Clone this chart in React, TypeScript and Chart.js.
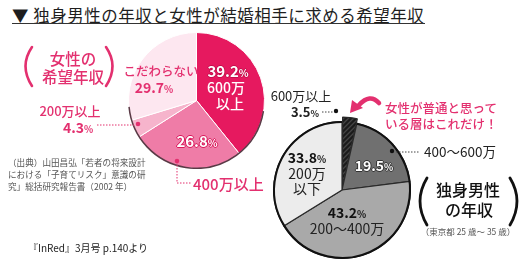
import React, { useEffect, useRef } from "react";
import { Chart, registerables } from "chart.js";

Chart.register(...registerables);

// ---- data ----
const womenCategories = ["600万以上", "400万以上", "200万以上", "こだわらない"];
const womenValues = [39.2, 26.8, 4.3, 29.7];
const womenColors = ["#e6195f", "#ef7ca7", "#f6b4cc", "#fde7f0"];

const menCategories = ["600万以上", "400～600万", "200～400万", "200万以下"];
const menValues = [3.5, 19.5, 43.2, 33.8];
const menColors = ["#1b1b1b", "#707070", "#a9a9a9", "#ececec"];
const menOffsets = [10, 0, 0, 0];

const FONT = "'Noto Sans CJK JP', 'Noto Sans', sans-serif";
const PINK = "#e3306f";

function hatch(): CanvasPattern | string {
  const c = document.createElement("canvas");
  c.width = 5;
  c.height = 5;
  const g = c.getContext("2d");
  if (!g) return "#1b1b1b";
  g.fillStyle = "#1b1b1b";
  g.fillRect(0, 0, 5, 5);
  g.strokeStyle = "#6a6a6a";
  g.lineWidth = 1;
  g.beginPath();
  g.moveTo(-1, 6);
  g.lineTo(6, -1);
  g.stroke();
  const p = g.createPattern(c, "repeat");
  return p || "#1b1b1b";
}

const rimPlugin = (color: string, width: number, fromIdx: number, toIdx: number, a0?: number, a1?: number) => ({
  id: "rim",
  afterDatasetsDraw(chart: any) {
    const meta = chart.getDatasetMeta(0);
    const first = meta.data[fromIdx];
    const last = meta.data[toIdx];
    if (!first || !last) return;
    const ctx = chart.ctx;
    const { x, y, outerRadius } = first.getProps(["x", "y", "outerRadius"], true);
    ctx.save();
    ctx.strokeStyle = color;
    ctx.lineWidth = width;
    ctx.beginPath();
    const s = a0 !== undefined ? a0 : first.startAngle;
    const e = a1 !== undefined ? a1 : last.endAngle;
    ctx.arc(x, y, outerRadius - width / 2 + 0.5, s, e);
    ctx.stroke();
    ctx.restore();
  },
});

function PieCanvas(props: {
  left: number;
  top: number;
  size: number;
  labels: string[];
  values: number[];
  colors: any[];
  offsets?: number[];
  borderColor: string;
  borderWidth: number;
  plugin: any;
  hatchFirst?: boolean;
}) {
  const ref = useRef<HTMLCanvasElement | null>(null);
  useEffect(() => {
    if (!ref.current) return;
    const colors = props.colors.slice();
    if (props.hatchFirst) colors[0] = hatch();
    const chart = new Chart(ref.current, {
      type: "pie",
      data: {
        labels: props.labels,
        datasets: [
          {
            data: props.values,
            backgroundColor: colors,
            borderColor: props.borderColor,
            borderWidth: props.borderWidth,
            offset: props.offsets || 0,
          } as any,
        ],
      },
      options: {
        responsive: false,
        animation: false,
        layout: { padding: 0 },
        plugins: { legend: { display: false }, tooltip: { enabled: false } },
      },
      plugins: [props.plugin],
    });
    return () => chart.destroy();
  }, []);
  return (
    <canvas
      ref={ref}
      width={props.size}
      height={props.size}
      style={{ position: "absolute", left: props.left, top: props.top, width: props.size, height: props.size }}
    />
  );
}

function T(props: {
  x: number;
  y: number;
  size: number;
  color?: string;
  weight?: number | string;
  align?: "left" | "center";
  outline?: string;
  spacing?: number;
  children: any;
}) {
  const o = props.outline;
  return (
    <div
      style={{
        position: "absolute",
        left: props.x,
        top: props.y,
        transform: props.align === "left" ? "translate(0,-50%)" : "translate(-50%,-50%)",
        fontSize: props.size,
        lineHeight: 1,
        color: props.color || "#222",
        fontWeight: props.weight || 400,
        whiteSpace: "nowrap",
        letterSpacing: props.spacing || 0,
        textShadow: o ? `-1px 0 ${o}, 1px 0 ${o}, 0 -1px ${o}, 0 1px ${o}` : undefined,
      }}
    >
      {props.children}
    </div>
  );
}

const pct = (v: number) => (
  <>
    {v.toFixed(1)}
    <span style={{ fontSize: "0.68em" }}>%</span>
  </>
);

export default function App() {
  return (
    <div
      style={{
        position: "fixed",
        left: 0,
        top: 0,
        width: 530,
        height: 265,
        background: "#fff",
        overflow: "hidden",
        fontFamily: FONT,
      }}
    >
      {/* title */}
      <T x={12} y={15} size={16.5} align="left" color="#1e1e1e" spacing={0.5}>
        ▼ 独身男性の年収と女性が結婚相手に求める希望年収
      </T>
      <div style={{ position: "absolute", left: 12, top: 23, width: 413, height: 1, background: "#333" }} />

      <PieCanvas
        left={128}
        top={32}
        size={137}
        labels={womenCategories}
        values={womenValues}
        colors={womenColors}
        borderColor="#ffffff"
        borderWidth={1}
        plugin={rimPlugin("#5a3a46", 1.5, 0, 3, 0.05 * Math.PI, 0.97 * Math.PI)}
      />
      <PieCanvas
        left={268}
        top={116}
        size={148}
        labels={menCategories}
        values={menValues}
        colors={menColors}
        offsets={menOffsets}
        borderColor="#2a2a2a"
        borderWidth={1.2}
        hatchFirst
        plugin={rimPlugin("#111", 2, 1, 3)}
      />

      <svg width={530} height={265} style={{ position: "absolute", left: 0, top: 0 }}>
        {/* women parens */}
        <path d="M 32 47 Q 19 66 32 86" fill="none" stroke={PINK} strokeWidth={2.6} strokeLinecap="round" />
        <path d="M 106 47 Q 119 66 106 86" fill="none" stroke={PINK} strokeWidth={2.6} strokeLinecap="round" />
        {/* men parens */}
        <path d="M 427 178 Q 413 201 427 225" fill="none" stroke="#111" strokeWidth={2.8} strokeLinecap="round" />
        <path d="M 510 178 Q 524 201 510 225" fill="none" stroke="#111" strokeWidth={2.8} strokeLinecap="round" />

        {/* women leaders */}
        <line x1={97} y1={125} x2={134} y2={125} stroke={PINK} strokeWidth={1} strokeDasharray="1.5 1.5" />
        <circle cx={138} cy={124} r={2.3} fill={PINK} />
        <polyline points="177,162 177,183 191,183" fill="none" stroke={PINK} strokeWidth={1} strokeDasharray="1.5 1.5" />
        <circle cx={177} cy={161} r={2.3} fill={PINK} />

        {/* men leaders */}
        <line x1={322} y1={112} x2={333} y2={112} stroke="#444" strokeWidth={1} strokeDasharray="1.5 1.5" />
        <circle cx={336} cy={111} r={2.2} fill="#111" />
        <line x1={396} y1={152} x2={420} y2={152} stroke="#444" strokeWidth={1} strokeDasharray="1.5 1.5" />
        <circle cx={392} cy={151} r={2.2} fill="#111" />

        {/* pink arrow */}
        <path d="M 379 103 Q 370 93 359 105" fill="none" stroke={PINK} strokeWidth={4.5} strokeLinecap="round" />
        <polygon points="350,113 352,100 363,108" fill={PINK} />
      </svg>

      {/* women labels */}
      <T x={73} y={59} size={15.5} color={PINK} weight={500}>女性の</T>
      <T x={73} y={77} size={15.5} color={PINK} weight={500}>希望年収</T>

      <T x={228} y={71} size={15} color="#fff" weight={700} outline="#c50f4c">{pct(39.2)}</T>
      <T x={226} y={87} size={14} color="#fff" weight={500}>600万</T>
      <T x={230} y={103} size={14} color="#fff" weight={500}>以上</T>

      <T x={161} y={71} size={12.5} color={PINK} weight={500}>こだわらない</T>
      <T x={154} y={87} size={14} color={PINK} weight={700}>{pct(29.7)}</T>

      <T x={70} y={110} size={13} color={PINK} weight={500}>200万以上</T>
      <T x={78} y={127} size={14} color={PINK} weight={700}>{pct(4.3)}</T>

      <T x={197} y={141} size={15} color="#fff" weight={700} outline="#d81b5c">{pct(26.8)}</T>
      <T x={193} y={183} size={15} color={PINK} weight={500} align="left">400万以上</T>

      <div style={{ position: "absolute", left: 8, top: 156, fontSize: 8.6, lineHeight: "12px", color: "#555" }}>
        <div>（出典）山田昌弘「若者の将来設計</div>
        <div>における「子育てリスク」意識の研</div>
        <div>究」総括研究報告書（2002 年）</div>
      </div>
      <T x={28} y={248} size={10} color="#222" align="left">『InRed』3月号 p.140より</T>

      {/* men labels */}
      <T x={301} y={95} size={13} color="#222">600万以上</T>
      <T x={305} y={112} size={13} color="#222" weight={700}>{pct(3.5)}</T>

      <T x={385} y={108} size={12.5} color={PINK} weight={500} align="left">女性が普通と思って</T>
      <T x={385} y={124} size={12.5} color={PINK} weight={500} align="left">いる層はこれだけ！</T>

      <T x={424} y={152} size={13.5} color="#222" align="left">400～600万</T>

      <T x={374} y={165} size={14} color="#fff" weight={700} outline="#333">{pct(19.5)}</T>

      <T x={307} y={157} size={14} color="#111" weight={700}>{pct(33.8)}</T>
      <T x={307} y={173} size={14} color="#222">200万</T>
      <T x={307} y={188} size={14} color="#222">以下</T>

      <T x={347} y={212} size={14} color="#111" weight={700}>{pct(43.2)}</T>
      <T x={347} y={228} size={14} color="#222">200～400万</T>

      <T x={468} y={189} size={16} color="#111" weight={500}>独身男性</T>
      <T x={469} y={209} size={16} color="#111" weight={500}>の年収</T>
      <T x={468} y={231} size={8.5} color="#555">（東京都 25 歳～ 35 歳）</T>
    </div>
  );
}
